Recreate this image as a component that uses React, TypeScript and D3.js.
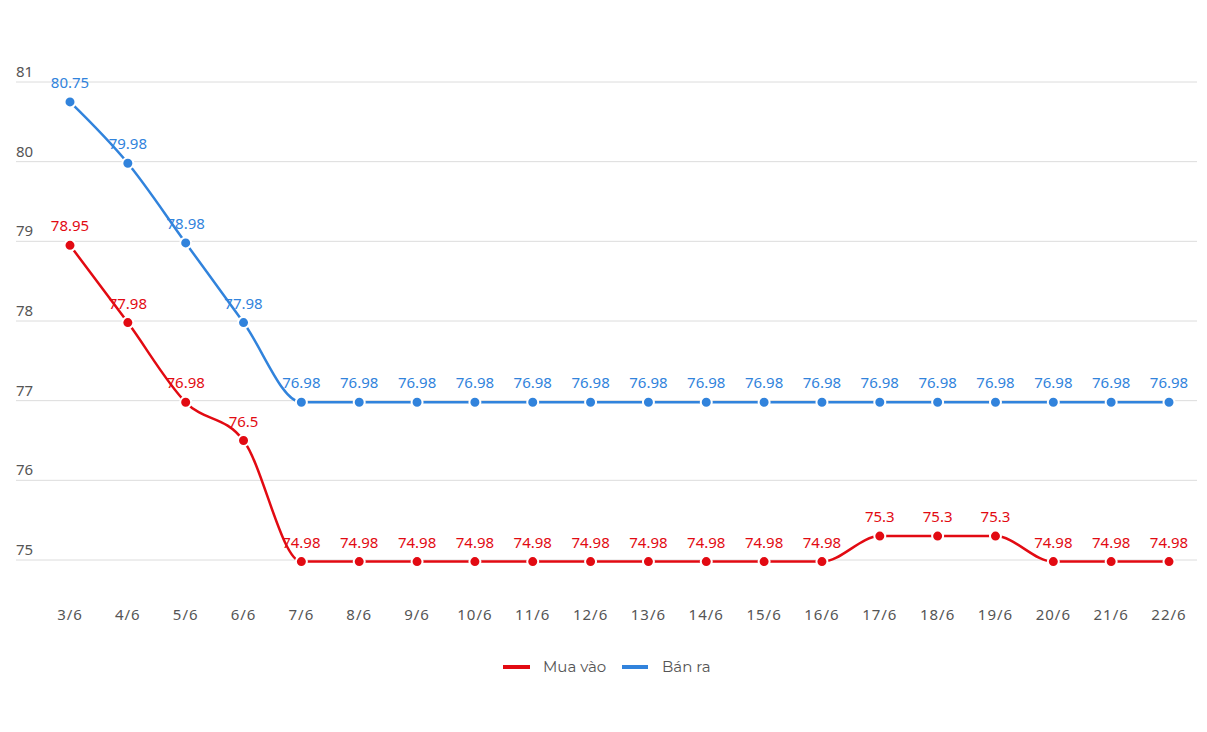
import React from "react";
import * as d3 from "d3";

const categories = ["3/6","4/6","5/6","6/6","7/6","8/6","9/6","10/6","11/6","12/6","13/6","14/6","15/6","16/6","17/6","18/6","19/6","20/6","21/6","22/6"];
const muaVao = [78.95,77.98,76.98,76.5,74.98,74.98,74.98,74.98,74.98,74.98,74.98,74.98,74.98,74.98,75.3,75.3,75.3,74.98,74.98,74.98];
const banRa = [80.75,79.98,78.98,77.98,76.98,76.98,76.98,76.98,76.98,76.98,76.98,76.98,76.98,76.98,76.98,76.98,76.98,76.98,76.98,76.98];
const yTicks = [75,76,77,78,79,80,81];

const W = 1207, H = 732;
const FONT = "'Noto Sans', 'Open Sans', sans-serif";

export default function App() {
  const x = d3.scalePoint<string>().domain(categories).range([70, 1169]);
  const y = d3.scaleLinear().domain([75, 81]).range([560, 82]);
  const line = d3.line<number>().x((_, i) => x(categories[i])!).y((d) => y(d)).curve(d3.curveMonotoneX);
  const series = [
    { name: "Mua vào", values: muaVao, color: "#e20a12" },
    { name: "Bán ra", values: banRa, color: "#3183dc" },
  ];
  const fmt = (v: number) => String(v);
  return (
    <svg width={W} height={H} style={{ position: "absolute", left: 0, top: 0, background: "#fff" }}>
      <rect width={W} height={H} fill="#fff" />
      {yTicks.map((t) => (
        <g key={t}>
          <line x1={16} x2={1197} y1={y(t)} y2={y(t)} stroke="#dcdcdc" strokeWidth={1} />
          <text x={16} y={y(t) - 5} fontFamily={FONT} fontSize={15} fill="#555">{t}</text>
        </g>
      ))}
      {categories.map((c) => (
        <text key={c} x={x(c)} y={620} textAnchor="middle" fontFamily={FONT} fontSize={15} fill="#555" letterSpacing={1}>{c}</text>
      ))}
      {series.map((s) => (
        <g key={s.name}>
          <path d={line(s.values) || ""} fill="none" stroke={s.color} strokeWidth={2.5} />
          {s.values.map((v, i) => (
            <circle key={i} cx={x(categories[i])} cy={y(v)} r={5.5} fill={s.color} stroke="#fff" strokeWidth={2} />
          ))}
          {s.values.map((v, i) => (
            <text key={"t" + i} x={x(categories[i])} y={y(v) - 14} textAnchor="middle" fontFamily={FONT} fontSize={15} fill={s.color}>{fmt(v)}</text>
          ))}
        </g>
      ))}
      <g fontFamily="Montserrat, 'Open Sans', sans-serif" fontSize={15} fill="#555">
        <line x1={503} x2={530} y1={667} y2={667} stroke="#e20a12" strokeWidth={4} />
        <text x={543} y={672}>Mua vào</text>
        <line x1={622} x2={648} y1={667} y2={667} stroke="#3183dc" strokeWidth={4} />
        <text x={662} y={672}>Bán ra</text>
      </g>
    </svg>
  );
}
